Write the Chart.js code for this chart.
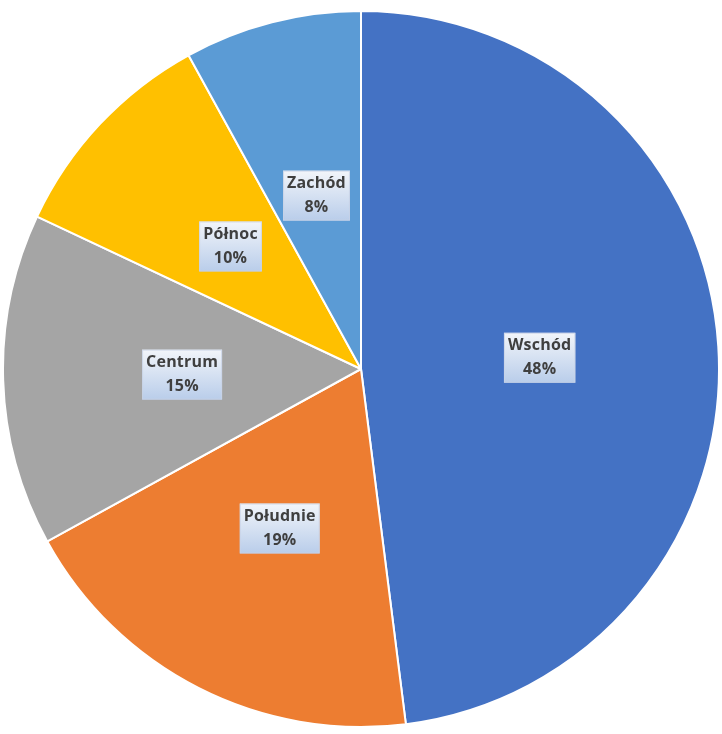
<!DOCTYPE html>
<html>
<head>
<meta charset="utf-8">
<script src="https://cdn.jsdelivr.net/npm/chart.js@4.4.0/dist/chart.umd.min.js"></script>
<style>
  html, body { margin: 0; padding: 0; background: #ffffff; }
  #box { position: relative; width: 722px; height: 734px; }
</style>
</head>
<body>
<div id="box"><canvas id="regiony"></canvas></div>
<script>
const labels = ['Wschód', 'Południe', 'Centrum', 'Północ', 'Zachód'];
const values = [48, 19, 15, 10, 8];
const colors = ['#4472C4', '#ED7D31', '#A5A5A5', '#FFC000', '#5B9BD5'];

// label boxes in the middle of each slice (white -> light blue gradient)
const sliceLabels = {
    id: 'sliceLabels',
    afterDatasetsDraw(chart) {
        const ctx = chart.ctx;
        const meta = chart.getDatasetMeta(0);
        const total = values.reduce((a, b) => a + b, 0);
        ctx.save();
        ctx.font = 'bold 16px "Open Sans"';
        ctx.letterSpacing = '0.2px';
        ctx.textAlign = 'center';
        ctx.textBaseline = 'middle';
        meta.data.forEach((arc, i) => {
            const p = arc.tooltipPosition();
            const line1 = labels[i];
            const line2 = Math.round(values[i] / total * 100) + '%';
            const w = Math.max(ctx.measureText(line1).width, ctx.measureText(line2).width) + 8;
            const h = 50;
            const x = p.x - w / 2, y = p.y - h / 2;
            const g = ctx.createLinearGradient(0, y, 0, y + h);
            g.addColorStop(0, '#f2f5fa');
            g.addColorStop(1, '#b9cdea');
            ctx.fillStyle = g;
            ctx.fillRect(x, y, w, h);
            ctx.strokeStyle = 'rgba(200,210,230,0.8)';
            ctx.lineWidth = 1;
            ctx.strokeRect(x + 0.5, y + 0.5, w - 1, h - 1);
            ctx.fillStyle = '#3f3f3f';
            ctx.fillText(line1, p.x, p.y - 12);
            ctx.fillText(line2, p.x, p.y + 12);
        });
        ctx.restore();
    }
};

const regiony = new Chart(
    document.getElementById('regiony'),
    {
    type: 'pie',
    data: {
        labels: labels,
        datasets: [{
            data: values,
            backgroundColor: colors,
            borderColor: '#ffffff',
            borderWidth: 2
        }]
    },
    options: {
        responsive: true,
        maintainAspectRatio: false,
        animation: false,
        layout: {
            padding: { top: 10, bottom: 6, left: 2, right: 2 }
        },
        plugins: {
            legend: { display: false },
            tooltip: { enabled: false }
        }
    },
    plugins: [sliceLabels]
    }
);
</script>
</body>
</html>
